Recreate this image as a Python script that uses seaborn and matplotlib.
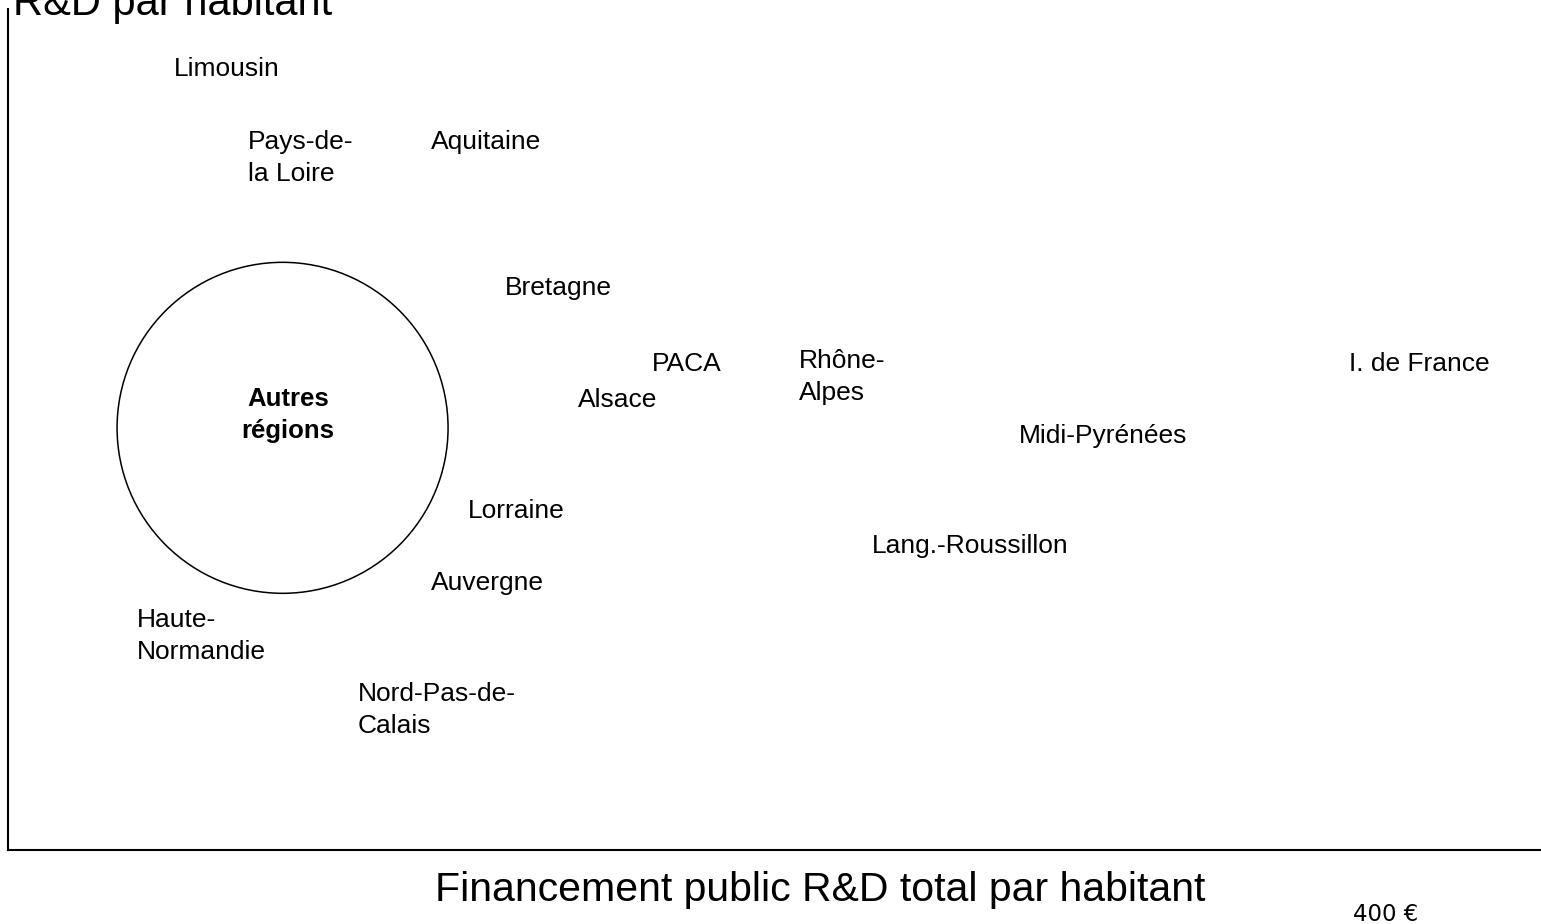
import pandas as pd
import numpy as np
import matplotlib
matplotlib.use("Agg")
import matplotlib.pyplot as plt
import seaborn as sns

sns.set_theme(style="white")
plt.rcParams['font.family'] = ['Liberation Sans', 'DejaVu Sans']
plt.rcParams['text.color'] = 'black'

# Region labels: public R&D funding per inhabitant (x, €) and R&D per inhabitant (y, index)
regions = ["Limousin", "Pays-de-\nla Loire", "Aquitaine", "Bretagne", "PACA",
           "Rhône-\nAlpes", "I. de France", "Alsace", "Midi-Pyrénées", "Lorraine",
           "Lang.-Roussillon", "Auvergne", "Haute-\nNormandie", "Nord-Pas-de-\nCalais"]
x_funding = [48.2, 69.7, 122.8, 144.3, 186.9, 229.6, 389.3, 165.5, 293.5, 133.5,
             250.8, 122.8, 37.4, 101.6]
y_rd = [92.9, 82.3, 84.2, 66.8, 57.8, 56.2, 57.8, 53.5, 49.2, 40.3, 36.1, 31.7,
        25.4, 16.6]

# Bubble for the remaining regions
other_label = "Autres\nrégions"
other_x = [79.7]
other_y = [50.2]

xticks = [400]
xtick_labels = ["400 €"]

df = pd.DataFrame({"region": regions, "x": x_funding, "y": y_rd})
df_other = pd.DataFrame({"region": [other_label], "x": other_x, "y": other_y})

W, H, DPI = 1541, 924, 100
fig = plt.figure(figsize=(W / DPI, H / DPI), dpi=DPI)
ax = fig.add_axes([8 / W, 74 / H, 1533 / W, 841 / H])

# the bubble (radius ~165 px)
diam_pt = 331 * 72 / DPI
sns.scatterplot(data=df_other, x="x", y="y", s=diam_pt ** 2, marker="o",
                facecolor="none", edgecolor="black", linewidth=1.1, ax=ax,
                legend=False)
ax.annotate(other_label, (other_x[0], other_y[0]), xytext=(4, 9),
            textcoords="offset points", ha="center", va="center",
            fontsize=18.5, fontweight="bold", linespacing=1.42, color="black")

for _, row in df.iterrows():
    ax.text(row["x"], row["y"], row["region"], ha="left", va="center",
            fontsize=19, linespacing=1.42, color="black")

ax.set_xlim(0, 445)
ax.set_ylim(0, 100)
ax.set_yticks([])
ax.set_xticks(xticks)
ax.set_xticklabels(xtick_labels, fontsize=16.5, family=['DejaVu Sans'])
ax.tick_params(axis="x", length=0, pad=38, colors="black")

ax.set_xlabel("Financement public R&D total par habitant", fontsize=29.5,
              color="black")
ax.xaxis.set_label_coords(0.5297, -0.0606)
ax.xaxis.label.set_va("baseline")
ax.set_ylabel("")

sns.despine(ax=ax, top=True, right=True)
for side in ["left", "bottom"]:
    ax.spines[side].set_color("black")
    ax.spines[side].set_linewidth(1.5)

fig.text(13 / W, 1 - 15 / H, "R&D par habitant", fontsize=30, va="baseline",
         ha="left", color="black")

fig.savefig("out.png", dpi=DPI)
